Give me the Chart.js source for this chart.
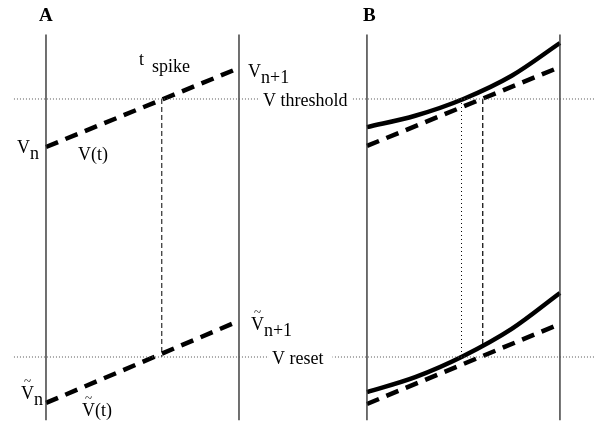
<!DOCTYPE html>
<html>
<head>
<meta charset="utf-8">
<script src="https://cdn.jsdelivr.net/npm/chart.js@4/dist/chart.umd.min.js"></script>
<style>
html, body { margin: 0; padding: 0; background: #fff; }
#wrap { width: 595px; height: 426px; position: relative; }
</style>
</head>
<body>
<div id="wrap"><canvas id="grafico"></canvas></div>
<script>
// time inside one step runs 0..1, panel B is drawn shifted to the right
const stepEdges = [0, 1];
const offsetB = 1.663;

// voltage scaled so reset = 0 and threshold = 1
const vThreshold = 1;
const vReset = 0;
const frameV = [-0.245, 1.25];
const guideT = [-0.166, 2.85];

// panel A: straight trajectories
const vLinear = [0.814, 1.12];
const vLinearReset = [-0.178, 0.14];
const tSpikeA = 0.6;

// panel B: curved trajectory read at quarter steps
const tCurve = [0, 0.25, 0.5, 0.75, 1];
const vCurve = [0.891, 0.935, 1.0, 1.09, 1.217];
const vCurveReset = [-0.136, -0.078, 0.004, 0.109, 0.248];
const vLinearB = [0.818, 1.124];
const vLinearResetB = [-0.182, 0.128];
const tSpikeCurve = 0.49;
const tSpikeLinB = 0.6;
const vSpikeLinEnd = 0.045;

// text: t, V in data units, optional subscript
const labels = [
    { t: -0.036, v: 1.302, text: 'A', bold: true },
    { t: 1.643, v: 1.302, text: 'B', bold: true },
    { t: 0.482, v: 1.132, text: 't', sub: 'spike', dx: 8, dy: 7 },
    { t: 1.047, v: 1.085, text: 'V', sub: 'n+1' },
    { t: -0.150, v: 0.791, text: 'V', sub: 'n' },
    { t: 0.166, v: 0.764, text: 'V(t)' },
    { t: 1.062, v: 0.105, text: 'V', sub: 'n+1', tilde: true },
    { t: -0.130, v: -0.163, text: 'V', sub: 'n', tilde: true },
    { t: 0.187, v: -0.229, text: 'V(t)', tilde: true },
    { t: 1.124, v: 0.99, text: 'V threshold', boxed: true, padL: 3, padR: 4 },
    { t: 1.171, v: -0.008, text: 'V reset', boxed: true, padL: 3, padR: 9 }
];

const FONT = '"Liberation Serif", "DejaVu Serif", serif';

function pts(ts, vs, off) {
    return ts.map((t, i) => ({ x: t + (off || 0), y: vs[i] }));
}

function frame(t) {
    return {
        data: [{ x: t, y: frameV[0] }, { x: t, y: frameV[1] }],
        borderColor: '#333', borderWidth: 1.4
    };
}

const datasets = [
    { data: [{ x: guideT[0], y: vThreshold }, { x: guideT[1], y: vThreshold }],
      borderColor: '#555', borderWidth: 1, borderDash: [1, 2] },
    { data: [{ x: guideT[0], y: vReset }, { x: guideT[1], y: vReset }],
      borderColor: '#555', borderWidth: 1, borderDash: [1, 2] },
    frame(stepEdges[0]), frame(stepEdges[1]),
    frame(stepEdges[0] + offsetB), frame(stepEdges[1] + offsetB),

    // panel A
    { data: pts(stepEdges, vLinear), borderColor: '#000', borderWidth: 4.5, borderDash: [13, 8] },
    { data: pts(stepEdges, vLinearReset), borderColor: '#000', borderWidth: 4.5, borderDash: [13, 8] },
    { data: [{ x: tSpikeA, y: vThreshold }, { x: tSpikeA, y: vReset }],
      borderColor: '#000', borderWidth: 1, borderDash: [5, 3] },

    // panel B
    { data: pts(tCurve, vCurve, offsetB), borderColor: '#000', borderWidth: 4.5,
      cubicInterpolationMode: 'monotone' },
    { data: pts(tCurve, vCurveReset, offsetB), borderColor: '#000', borderWidth: 4.5,
      cubicInterpolationMode: 'monotone' },
    { data: pts(stepEdges, vLinearB, offsetB), borderColor: '#000', borderWidth: 4.5, borderDash: [13, 8] },
    { data: pts(stepEdges, vLinearResetB, offsetB), borderColor: '#000', borderWidth: 4.5, borderDash: [13, 8] },
    { data: [{ x: tSpikeCurve + offsetB, y: vThreshold }, { x: tSpikeCurve + offsetB, y: vReset }],
      borderColor: '#000', borderWidth: 1, borderDash: [1, 3] },
    { data: [{ x: tSpikeLinB + offsetB, y: vThreshold }, { x: tSpikeLinB + offsetB, y: vSpikeLinEnd }],
      borderColor: '#000', borderWidth: 1.2, borderDash: [5, 3] }
];

datasets.forEach(d => {
    d.showLine = true;
    d.pointRadius = 0;
    d.fill = false;
    d.borderCapStyle = 'butt';
});

const textPlugin = {
    id: 'textos',
    afterDatasetsDraw(c) {
        const ctx = c.ctx;
        const sx = c.scales.x, sy = c.scales.y;
        ctx.save();
        ctx.fillStyle = '#000';
        labels.forEach(l => {
            const x = sx.getPixelForValue(l.t);
            const y = sy.getPixelForValue(l.v);
            ctx.font = (l.bold ? 'bold 19px ' : '18px ') + FONT;
            if (l.boxed) {
                ctx.textBaseline = 'middle';
                const w = ctx.measureText(l.text).width;
                ctx.fillStyle = '#fff';
                ctx.fillRect(x - l.padL, y - 8, w + l.padL + l.padR, 16);
                ctx.fillStyle = '#000';
                ctx.fillText(l.text, x, y);
                return;
            }
            ctx.textBaseline = 'alphabetic';
            ctx.fillText(l.text, x, y);
            if (l.tilde) {
                const vw = ctx.measureText('V').width;
                ctx.font = '13px ' + FONT;
                ctx.textAlign = 'center';
                ctx.fillText('~', x + vw / 2, y - 14);
                ctx.textAlign = 'left';
                ctx.font = '18px ' + FONT;
            }
            if (l.sub) {
                const w = ctx.measureText(l.text).width;
                ctx.fillText(l.sub, x + w + (l.dx || 0), y + (l.dy || 6));
            }
        });
        ctx.restore();
    }
};

new Chart(document.getElementById('grafico').getContext('2d'), {
    type: 'scatter',
    data: { datasets: datasets },
    options: {
        responsive: true,
        maintainAspectRatio: false,
        animation: false,
        layout: { padding: 0 },
        plugins: { legend: { display: false }, tooltip: { enabled: false } },
        scales: {
            x: { type: 'linear', min: -0.2383, max: 2.8446, display: false },
            y: { type: 'linear', min: -0.2674, max: 1.3837, display: false }
        }
    },
    plugins: [textPlugin]
});
</script>
</body>
</html>
